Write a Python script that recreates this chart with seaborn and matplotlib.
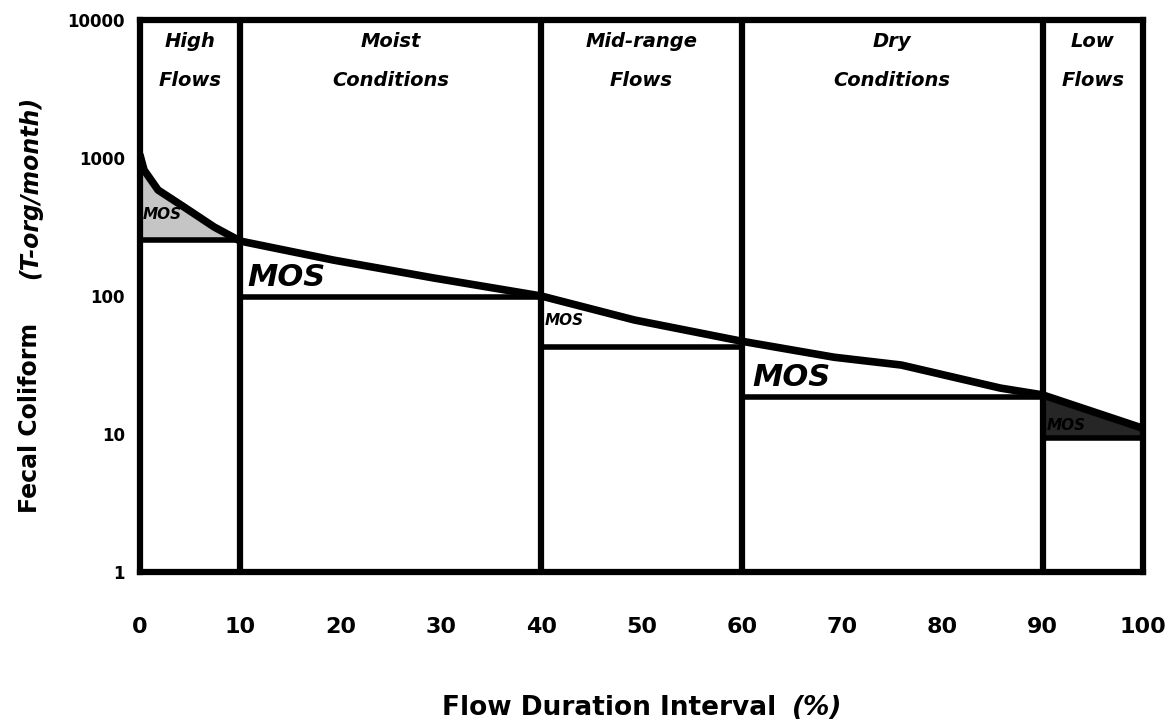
import matplotlib
matplotlib.use("Agg")

import matplotlib.pyplot as plt
import pandas as pd
import seaborn as sns

# Load duration curve.
flow_pct = [0, 0.4, 1.8, 4.4, 7.4, 10, 19.3, 29.3, 40, 49.3, 60, 69.2, 75.9, 85.8, 90, 100]
load = [1050, 819, 586, 441, 316, 250, 182, 135, 100, 67, 47, 36, 31.6, 21.5, 19.2, 11]

# Flow zones and the allowable load (bottom of each MOS triangle).
zone_start = [0, 10, 40, 60, 90]
zone_end = [10, 40, 60, 90, 100]
zone_names = ["High\nFlows", "Moist\nConditions", "Mid-range\nFlows", "Dry\nConditions", "Low\nFlows"]
zone_target = [255, 98, 43, 18.5, 9.4]

# "MOS" labels: x, y and size class.
mos_x = [0.3, 10.7, 40.3, 61.1, 90.4]
mos_y = [390, 137, 66, 25.5, 11.6]
mos_big = [False, True, False, True, False]

x_ticks = [0, 10, 20, 30, 40, 50, 60, 70, 80, 90, 100]
y_ticks = [1, 10, 100, 1000, 10000]

FONT = ["DejaVu Sans"]


def main() -> None:
    sns.set_theme(style="white")
    plt.rcParams["font.family"] = FONT
    plt.rcParams["text.color"] = "black"
    plt.rcParams["axes.labelcolor"] = "black"

    df = pd.DataFrame({"flow": flow_pct, "load": load})

    fig = plt.figure(figsize=(11.72, 7.27), dpi=100)
    ax = fig.add_axes([140 / 1172, 1 - 572 / 727, (1143 - 140) / 1172, (572 - 20) / 727])

    # Shade the low-flow triangle, which is almost solid in the scan.
    lo = df[df["flow"] >= 90]
    ax.fill_between(lo["flow"], zone_target[4], lo["load"], color="0.15", lw=0)
    hi = df[df["flow"] <= 10]
    ax.fill_between(hi["flow"], zone_target[0], hi["load"], color="0.55", lw=0, alpha=0.5)

    sns.lineplot(data=df, x="flow", y="load", ax=ax, color="black", lw=5.5)

    # MOS triangles: horizontal at the target, zone dividers full height.
    for s, e, t in zip(zone_start, zone_end, zone_target):
        ax.plot([s, e], [t, t], color="black", lw=4)
    for b in zone_start[1:]:
        ax.axvline(b, color="black", lw=4.5)

    for s, e, name in zip(zone_start, zone_end, zone_names):
        ax.text((s + e) / 2, 0.926, name, transform=ax.get_xaxis_transform(),
                ha="center", va="center", fontsize=14, fontweight="bold",
                fontstyle="italic", linespacing=2.3, color="black")

    for x, y, big in zip(mos_x, mos_y, mos_big):
        ax.text(x, y, "MOS", ha="left", va="center", fontsize=22 if big else 11,
                fontweight="bold", fontstyle="italic", color="black")

    ax.set_yscale("log")
    ax.set_xlim(0, 100)
    ax.set_ylim(1, 10000)
    ax.set_xticks(x_ticks)
    ax.set_xticklabels([str(v) for v in x_ticks], fontsize=16, fontweight="bold")
    ax.set_yticks(y_ticks)
    ax.set_yticklabels([str(v) for v in y_ticks], fontsize=12, fontweight="bold")
    ax.minorticks_off()
    ax.tick_params(axis="x", direction="inout", length=21, width=3, pad=22, colors="black")
    ax.tick_params(axis="y", direction="out", length=7, width=3, pad=4, colors="black")
    for sp in ax.spines.values():
        sp.set_color("black")
        sp.set_linewidth(4.5)
    ax.set_xlabel("")
    ax.set_ylabel("")

    # Axis titles, with the unit parts in italic as in the scan.
    fig.text(785 / 1172, 1 - 708 / 727, "Flow Duration Interval ", ha="right", va="center",
             fontsize=19, fontweight="bold")
    fig.text(792 / 1172, 1 - 708 / 727, "(%)", ha="left", va="center",
             fontsize=19, fontweight="bold", fontstyle="italic")
    fig.text(30 / 1172, 1 - 418 / 727, "Fecal Coliform", ha="center", va="center", rotation=90,
             fontsize=17, fontweight="bold")
    fig.text(30 / 1172, 1 - 187 / 727, "(T-org/month)", ha="center", va="center", rotation=90,
             fontsize=17, fontweight="bold", fontstyle="italic")

    fig.savefig("out.png", dpi=100)
    plt.close(fig)


if __name__ == "__main__":
    main()
